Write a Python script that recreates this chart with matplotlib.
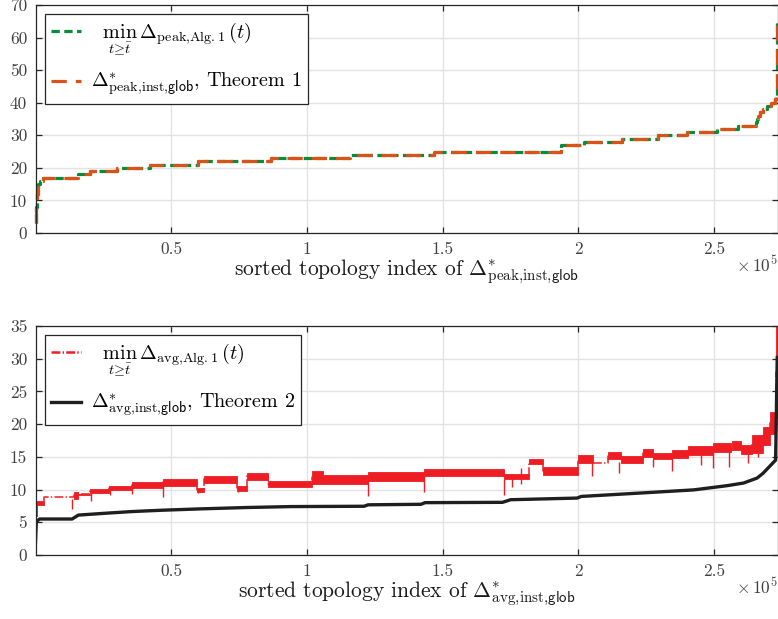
import matplotlib
matplotlib.use("Agg")
import matplotlib.pyplot as plt
import numpy as np
from matplotlib.ticker import FixedLocator, FuncFormatter

plt.rcParams["font.family"] = "serif"
plt.rcParams["font.serif"] = ["cmr10", "DejaVu Serif"]
plt.rcParams["mathtext.fontset"] = "cm"
plt.rcParams["axes.formatter.use_mathtext"] = True
plt.rcParams["lines.scale_dashes"] = False

# number of topologies (sorted index runs from 0 to N)
n_topologies = 273300

# ---- peak AoI: sorted optimum (Theorem 1) and best value from Alg. 1 (they coincide)
peak_level = [3, 5, 8, 10, 12, 14, 15, 16, 17, 18, 19, 20, 21, 22, 23, 24, 25,
              27, 28, 29, 30, 31, 32, 33, 34, 35, 36, 37, 38, 39, 40, 41, 42,
              45, 50, 55, 60, 65]
peak_start = [0, 100, 250, 400, 600, 800, 1100, 1800, 2900, 15500, 20000,
              30200, 42000, 60000, 86600, 115700, 146700, 193400, 202200,
              216100, 229300, 240000, 251000, 258900, 265500, 265900, 266300,
              267000, 268000, 269500, 271000, 272200, 272800, 273000, 273100,
              273150, 273200, 273250]
peak_alg1_level = list(peak_level)
peak_alg1_start = list(peak_start)

# ---- average AoI: sorted optimum (Theorem 2)
avg_thm_idx = [0, 300, 1500, 13500, 15800, 26400, 36000, 47000, 60800, 78000,
               94000, 121000, 122500, 142000, 143500, 172000, 175000, 199500,
               201000, 224000, 242400, 254800, 260800, 265800, 268000, 272600,
               273200]
avg_thm_val = [2.0, 5.1, 5.5, 5.5, 6.1, 6.4, 6.65, 6.85, 7.05, 7.26, 7.4, 7.45,
               7.67, 7.75, 8.0, 8.05, 8.45, 8.7, 8.95, 9.5, 9.95, 10.6, 11.0,
               11.76, 12.5, 14.5, 30.2]

# ---- average AoI reached by Alg. 1: plateaus (start, end, low, high)
avg_alg1_start = [300, 700, 3000, 14000, 15500, 20000, 27000, 35700, 46800,
                  59600, 62000, 74400, 78000, 85500, 102000, 106000, 122500,
                  143000, 172400, 181600, 187000, 200000, 205500, 211000,
                  215500, 223600, 227300, 234600, 240500, 249400, 256000,
                  256700, 259700, 264000, 268000, 270500, 272600]
avg_alg1_end = [700, 3000, 14000, 15500, 20000, 27000, 35700, 46800, 59600,
                62000, 74400, 78000, 85500, 102000, 106000, 122500, 143000,
                172400, 181600, 187000, 200000, 205500, 211000, 215500,
                223600, 227300, 234600, 240500, 249400, 256000, 256700,
                259700, 264000, 268000, 270500, 272600, 273300]
avg_alg1_lo = [6.0, 7.7, 8.85, 8.6, 9.2, 9.4, 9.9, 10.2, 10.6, 9.6, 11.0, 9.8,
               11.5, 10.4, 10.8, 10.8, 11.3, 12.1, 11.6, 13.9, 12.3, 14.1,
               14.05, 14.6, 14.1, 15.0, 14.6, 14.8, 15.3, 15.7, 16.0, 16.1,
               15.4, 15.6, 16.8, 18.5, 21.0]
avg_alg1_hi = [8.3, 8.3, 8.95, 9.6, 9.35, 10.1, 10.6, 11.1, 11.6, 10.2, 12.1,
               10.6, 12.6, 11.3, 12.9, 12.2, 12.7, 13.2, 12.4, 14.6, 13.5, 15.3,
               14.15, 15.8, 15.1, 16.2, 15.6, 16.1, 16.6, 17.1, 16.1, 17.5,
               16.8, 18.4, 19.5, 21.8, 35.0]
# isolated dips of Alg. 1 (index, lowest value)
dip_idx = [13500, 20500, 27500, 35700, 46800, 60000, 74500, 122500, 143000,
           172400, 175500, 179000, 205000, 215000, 227300, 234600, 245000,
           249400, 255500, 262500, 266000]
dip_val = [7.0, 8.2, 9.2, 9.3, 8.9, 9.4, 9.7, 8.95, 9.7, 9.2, 10.4, 10.8,
           12.0, 12.5, 13.5, 12.8, 13.8, 13.3, 13.5, 14.0, 15.0]

green = "#0a8a3a"
orange = "#d95319"
red = "#ee1d24"
dark = "#1f1f1f"
axcol = "#262626"
tickcol = "#404040"

fig = plt.figure(figsize=(7.78, 6.19), dpi=100)
ax1 = fig.add_axes([35.5 / 778, 1 - 233 / 619, 742 / 778, 228 / 619])
ax2 = fig.add_axes([35.5 / 778, 1 - 555 / 619, 742 / 778, 229 / 619])


def style_axes(ax, ymax, ystep, xlabel):
    ax.set_xlim(0, n_topologies)
    ax.set_ylim(0, ymax)
    ax.xaxis.set_major_locator(FixedLocator([0.5e5, 1e5, 1.5e5, 2e5, 2.5e5]))
    ax.xaxis.set_major_formatter(FuncFormatter(lambda v, p: f"{v / 1e5:g}"))
    ax.set_yticks(np.arange(0, ymax + 0.1, ystep))
    ax.yaxis.set_major_formatter(FuncFormatter(lambda v, p: f"{v:g}"))
    ax.grid(True, color="#e2e2e2", lw=1.0)
    ax.set_axisbelow(True)
    ax.tick_params(direction="in", length=4.5, width=0.9, top=True, right=True,
                   colors=axcol, labelcolor=tickcol, labelsize=12.5, pad=6)
    for s in ax.spines.values():
        s.set_color(axcol)
        s.set_linewidth(0.9)
    ax.set_xlabel(xlabel, fontsize=15.5, color="#1a1a1a", labelpad=1)
    ax.text(1.0, -0.095, r"$\times\,10^5$", transform=ax.transAxes,
            ha="right", va="top", fontsize=12.5, color=tickcol)


def add_legend(ax, handles, labels):
    leg = ax.legend(handles, labels, loc="upper left",
                    bbox_to_anchor=(0.0125, 0.96), borderaxespad=0,
                    fontsize=14.5, frameon=True, fancybox=False,
                    edgecolor=axcol, framealpha=1, borderpad=0.3,
                    labelspacing=0.7, handlelength=1.5, handletextpad=0.5)
    leg.get_frame().set_linewidth(0.9)
    return leg


sub_peak = r"\mathrm{peak{,}inst{,}}\mathsf{glob}"
sub_avg = r"\mathrm{avg{,}inst{,}}\mathsf{glob}"

# ---- top panel
x_alg = list(peak_alg1_start) + [n_topologies]
y_alg = list(peak_alg1_level) + [peak_alg1_level[-1]]
x_thm = list(peak_start) + [n_topologies]
y_thm = list(peak_level) + [peak_level[-1]]
l1, = ax1.plot(x_alg, y_alg, drawstyle="steps-post", color=green, lw=2.3,
               dashes=(6, 3.2), clip_on=False)
l2, = ax1.plot(x_thm, y_thm, drawstyle="steps-post", color=orange, lw=2.3,
               dashes=(11, 6.5), clip_on=False)
style_axes(ax1, 70, 10, r"sorted topology index of $\Delta^{*}_{" + sub_peak + "}$")
add_legend(ax1, [l1, l2],
           [r"$\ \ \min_{t\geq\bar{t}}\,\Delta_{\mathrm{peak{,}Alg.1}}(t)$",
            r"$\Delta^{*}_{" + sub_peak + "}$, Theorem 1"])

# ---- bottom panel
for s, e, lo, hi in zip(avg_alg1_start, avg_alg1_end, avg_alg1_lo, avg_alg1_hi):
    if hi - lo > 0.15:
        ax2.fill_between([s, e], [lo, lo], [hi, hi], color=red, lw=0.6,
                         edgecolor=red)
mid = [(lo + hi) / 2 for lo, hi in zip(avg_alg1_lo, avg_alg1_hi)]
ax2.plot(list(avg_alg1_start) + [avg_alg1_end[-1]], mid + [mid[-1]],
         drawstyle="steps-post", color=red, lw=1.1, ls="-.")
ax2.vlines(dip_idx, dip_val,
           [np.interp(i, avg_alg1_start, avg_alg1_lo) for i in dip_idx],
           color=red, lw=1.0)
l4, = ax2.plot(avg_thm_idx, avg_thm_val, color=dark, lw=2.4,
               solid_joinstyle="round")
style_axes(ax2, 35, 5, r"sorted topology index of $\Delta^{*}_{" + sub_avg + "}$")
leg_red = matplotlib.lines.Line2D([], [], color=red, lw=1.8, ls="-.")
add_legend(ax2, [leg_red, l4],
           [r"$\ \ \min_{t\geq\bar{t}}\,\Delta_{\mathrm{avg{,}Alg.1}}(t)$",
            r"$\Delta^{*}_{" + sub_avg + "}$, Theorem 2"])

fig.savefig("out.png", dpi=100)
